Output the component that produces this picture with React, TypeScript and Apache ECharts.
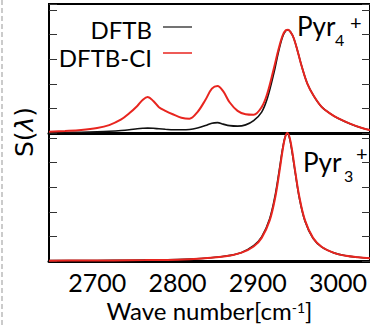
import React, { useEffect, useRef } from "react";
import * as echarts from "echarts";

// Wave numbers (cm^-1) for the upper panel (Pyr4+)
const upperWave = [2640, 2660, 2680, 2700, 2715, 2730, 2740, 2750, 2757, 2763, 2770, 2777, 2785, 2795, 2805, 2815, 2825, 2835, 2843, 2850, 2857, 2865, 2875, 2885, 2895, 2905, 2912, 2920, 2926, 2931, 2935, 2938, 2941, 2945, 2950, 2955, 2962, 2970, 2980, 2990, 3000, 3015, 3030, 3040];
const upperDFTB = [0.01, 0.02, 0.03, 0.05, 0.07, 0.1, 0.13, 0.17, 0.19, 0.2, 0.19, 0.17, 0.15, 0.13, 0.13, 0.14, 0.2, 0.3, 0.4, 0.42, 0.36, 0.3, 0.28, 0.33, 0.5, 0.85, 1.4, 2.4, 3.3, 3.9, 4.15, 4.19, 4.1, 3.85, 3.3, 2.7, 2.0, 1.5, 1.05, 0.8, 0.6, 0.38, 0.2, 0.12];
const upperDFTBCI = [0.05, 0.08, 0.12, 0.2, 0.32, 0.55, 0.8, 1.1, 1.35, 1.46, 1.3, 1.05, 0.9, 0.75, 0.62, 0.58, 0.85, 1.35, 1.8, 1.91, 1.7, 1.25, 0.9, 0.76, 0.74, 1.05, 1.6, 2.6, 3.4, 3.95, 4.17, 4.19, 4.1, 3.85, 3.3, 2.7, 2.0, 1.5, 1.05, 0.8, 0.6, 0.38, 0.2, 0.12];

// Wave numbers for the lower panel (Pyr3+)
const lowerWave = [2640, 2680, 2720, 2760, 2800, 2830, 2860, 2880, 2895, 2905, 2915, 2922, 2927, 2931, 2934, 2937, 2940, 2943, 2947, 2952, 2959, 2969, 2980, 2995, 3010, 3025, 3040];
const lowerDFTB = [0.014, 0.019, 0.026, 0.038, 0.057, 0.1, 0.2, 0.35, 0.62, 0.98, 1.72, 2.7, 3.7, 4.55, 5.02, 5.18, 4.95, 4.4, 3.55, 2.55, 1.62, 0.92, 0.56, 0.33, 0.21, 0.15, 0.11];
const lowerDFTBCI = [0.013, 0.018, 0.025, 0.037, 0.055, 0.1, 0.19, 0.34, 0.59, 0.94, 1.65, 2.6, 3.6, 4.48, 5.0, 5.2, 5.0, 4.48, 3.6, 2.6, 1.65, 0.94, 0.57, 0.33, 0.21, 0.15, 0.11];

const xTickLabels = [2700, 2800, 2900, 3000];
const seriesNames = ["DFTB", "DFTB-CI"];

const FONT = "Lato, 'Open Sans', sans-serif";
const RED = "#e8251f";
const BLACK = "#111";

function zip(xs: number[], ys: number[]) {
  return xs.map((x, i) => [x, ys[i]]);
}

export default function App() {
  const ref = useRef<HTMLDivElement>(null);
  useEffect(() => {
    if (!ref.current) return;
    const chart = echarts.init(ref.current, undefined, { renderer: "svg" });
    const xBase = {
      type: "value" as const,
      min: 2640,
      max: 3040,
      splitLine: { show: false },
      axisTick: { show: false },
      axisLine: { show: true, onZero: false, lineStyle: { color: "#000", width: 3 } },
    };
    const yBase = (max: number, gridIndex: number, position: "left" | "right") => ({
      type: "value" as const,
      gridIndex,
      position,
      min: 0,
      max,
      interval: 1,
      splitLine: { show: false },
      axisLabel: { show: false },
      axisLine: { show: position === "left", lineStyle: { color: "#000", width: 2 } },
      axisTick: { show: true, inside: true, length: 8, lineStyle: { color: "#333", width: 1 } },
    });
    chart.setOption({
      animation: false,
      backgroundColor: "#fff",
      grid: [
        { left: 49, top: 4, width: 322, height: 129, show: true, borderColor: "#000", borderWidth: 2 },
        { left: 49, top: 133, width: 322, height: 128, show: true, borderColor: "#000", borderWidth: 2 },
      ],
      xAxis: [
        { ...xBase, gridIndex: 0, axisLabel: { show: false } },
        {
          ...xBase,
          gridIndex: 1,
          axisLabel: {
            show: true,
            customValues: xTickLabels,
            formatter: (v: number) => String(v),
            fontFamily: FONT,
            fontSize: 25,
            lineHeight: 20,
            color: "#000",
            margin: 11,
          },
          name: "Wave number[cm{sup|-1}]",
          nameLocation: "middle",
          nameGap: 39,
          nameTextStyle: {
            fontFamily: FONT,
            fontSize: 24,
            lineHeight: 20,
            color: "#000",
            rich: { sup: { fontFamily: FONT, fontSize: 14, lineHeight: 12, color: "#000", verticalAlign: "top", padding: [0, 0, 8, 0] } },
          },
        },
      ],
      yAxis: [
        yBase(5.24, 0, "left"),
        yBase(5.24, 0, "right"),
        yBase(5.2, 1, "left"),
        yBase(5.2, 1, "right"),
      ],
      series: [
        {
          name: seriesNames[0], type: "line", xAxisIndex: 0, yAxisIndex: 0, data: zip(upperWave, upperDFTB),
          smooth: 0.35, showSymbol: false, lineStyle: { color: BLACK, width: 1.6 }, z: 2,
        },
        {
          name: seriesNames[1], type: "line", xAxisIndex: 0, yAxisIndex: 0, data: zip(upperWave, upperDFTBCI),
          smooth: 0.35, showSymbol: false, lineStyle: { color: RED, width: 2 }, z: 3,
        },
        {
          name: seriesNames[0], type: "line", xAxisIndex: 1, yAxisIndex: 2, data: zip(lowerWave, lowerDFTB),
          smooth: 0.35, showSymbol: false, lineStyle: { color: BLACK, width: 1.6 }, z: 2,
        },
        {
          name: seriesNames[1], type: "line", xAxisIndex: 1, yAxisIndex: 2, data: zip(lowerWave, lowerDFTBCI),
          smooth: 0.35, showSymbol: false, lineStyle: { color: RED, width: 2 }, z: 3,
        },
      ],
      graphic: [
        { type: "line", shape: { x1: 2, y1: 0, x2: 2, y2: 326 }, style: { stroke: "#bbb", lineWidth: 1.5, lineDash: [5, 3] } },
        {
          type: "text", x: 24, y: 132, rotation: Math.PI / 2,
          style: {
            text: "S({i|λ})", fontFamily: "'DejaVu Sans', sans-serif", fontSize: 25, fill: "#000", align: "center", verticalAlign: "middle",
            rich: { i: { fontFamily: "'DejaVu Sans', sans-serif", fontSize: 25, fontStyle: "italic", fill: "#000" } },
          },
        },
        { type: "text", x: 152, y: 29, style: { text: seriesNames[0], fontFamily: FONT, fontSize: 24, fill: "#000", align: "right", verticalAlign: "middle" } },
        { type: "text", x: 152, y: 57, style: { text: seriesNames[1], fontFamily: FONT, fontSize: 24, fill: "#000", align: "right", verticalAlign: "middle" } },
        { type: "line", shape: { x1: 163, y1: 27, x2: 192, y2: 27 }, style: { stroke: "#444", lineWidth: 1.5 } },
        { type: "line", shape: { x1: 163, y1: 53, x2: 192, y2: 53 }, style: { stroke: RED, lineWidth: 1.5 } },
        { type: "text", x: 297, y: 26, style: { text: "Pyr", fontFamily: FONT, fontSize: 26, fill: "#000", align: "left", verticalAlign: "middle" } },
        { type: "text", x: 335, y: 39, style: { text: "4", fontFamily: FONT, fontSize: 16, fill: "#000", align: "left", verticalAlign: "middle" } },
        { type: "text", x: 350, y: 22, style: { text: "+", fontFamily: FONT, fontSize: 20, fill: "#000", align: "left", verticalAlign: "middle" } },
        { type: "text", x: 303, y: 162, style: { text: "Pyr", fontFamily: FONT, fontSize: 26, fill: "#000", align: "left", verticalAlign: "middle" } },
        { type: "text", x: 344, y: 175, style: { text: "3", fontFamily: FONT, fontSize: 16, fill: "#000", align: "left", verticalAlign: "middle" } },
        { type: "text", x: 356, y: 153, style: { text: "+", fontFamily: FONT, fontSize: 20, fill: "#000", align: "left", verticalAlign: "middle" } },
      ],
    });
    return () => chart.dispose();
  }, []);
  return <div ref={ref} style={{ position: "absolute", left: 0, top: 0, width: 370, height: 326 }} />;
}
